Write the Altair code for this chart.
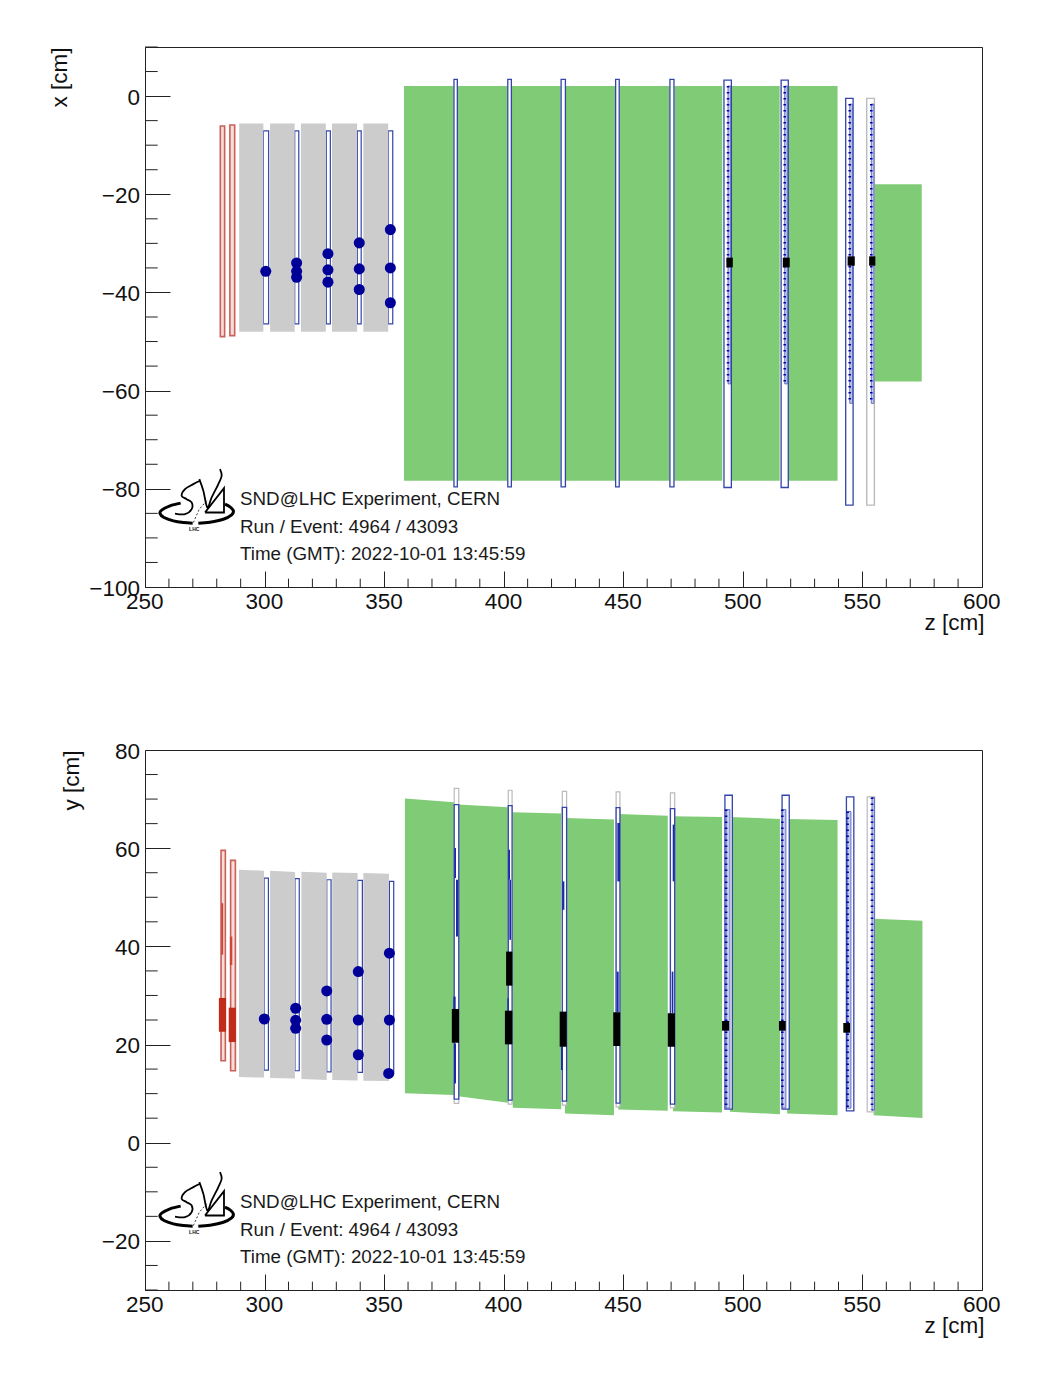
import altair as alt
import pandas as pd

Z_MIN, Z_MAX = 250, 600
FONT = "Liberation Sans"
GREEN, GRAY, BLUE, RED, NAVY = "#80cb75", "#cccccc", "#3344aa", "#c22a1a", "#000099"

z_major = [250, 300, 350, 400, 450, 500, 550, 600]
z_minor = [260, 270, 280, 290, 310, 320, 330, 340, 360, 370, 380, 390, 410, 420, 430, 440,
           460, 470, 480, 490, 510, 520, 530, 540, 560, 570, 580, 590]
x_major = [-100, -80, -60, -40, -20, 0]
x_minor = [-95, -90, -85, -75, -70, -65, -55, -50, -45, -35, -30, -25, -15, -10, -5, 5, 10]
y_major = [-20, 0, 20, 40, 60, 80]
y_minor = [-30, -25, -15, -10, -5, 5, 10, 15, 25, 30, 35, 45, 50, 55, 65, 70, 75]

# z0, z1, top0, top1, bottom0, bottom1
top_green = [(358.3, 379.0, 2.04, 2.04, -78.36, -78.36), (380.8, 401.5, 2.04, 2.04, -78.36, -78.36),
             (403.4, 423.8, 2.04, 2.04, -78.36, -78.36), (426.0, 446.6, 2.04, 2.04, -78.36, -78.36),
             (448.5, 469.3, 2.04, 2.04, -78.36, -78.36), (471.4, 491.4, 2.04, 2.04, -78.36, -78.36),
             (495.4, 515.4, 2.04, 2.04, -78.36, -78.36), (519.2, 539.6, 2.04, 2.04, -78.36, -78.36),
             (555.0, 574.8, -17.96, -17.96, -58.16, -58.16)]
bot_green = [(358.7, 379.2, 70.1, 69.35, 10.1, 9.7), (380.9, 401.8, 68.88, 68.33, 9.49, 8.12),
             (403.8, 424.0, 67.3, 67.04, 7.1, 6.84), (425.6, 446.1, 66.17, 65.82, 5.96, 5.61),
             (447.9, 468.6, 66.98, 66.63, 6.78, 6.49), (470.8, 491.3, 66.49, 66.37, 6.43, 6.17),
             (494.6, 515.5, 66.37, 65.96, 6.29, 5.82), (518.5, 539.6, 65.96, 65.76, 5.96, 5.61),
             (554.7, 575.1, 45.61, 45.21, 5.61, 5.06)]
top_gray = [(289.4, 299.5, -5.6, -5.6, -48.0, -48.0), (302.3, 312.6, -5.6, -5.6, -48.0, -48.0),
            (315.2, 325.6, -5.6, -5.6, -48.0, -48.0), (328.2, 338.7, -5.6, -5.6, -48.0, -48.0),
            (341.3, 351.7, -5.6, -5.6, -48.0, -48.0)]
bot_gray = [(289.3, 299.8, 55.61, 55.41, 13.37, 13.27), (302.3, 312.7, 55.41, 55.14, 13.17, 13.06),
            (315.4, 326.0, 55.21, 55.0, 12.96, 12.76), (328.3, 338.9, 55.06, 54.94, 12.76, 12.66),
            (341.3, 352.0, 54.94, 54.8, 12.61, 12.55)]

# z0, z1, v0, v1
top_veto = [(299.5, 301.7, -7.1, -46.4), (312.6, 314.3, -7.1, -46.4), (325.8, 327.5, -7.1, -46.4),
            (338.8, 340.4, -7.1, -46.4), (351.7, 353.6, -7.1, -46.4)]
bot_veto = [(299.8, 301.6, 53.92, 14.8), (312.7, 314.5, 53.78, 14.66), (326.0, 327.8, 53.57, 14.45),
            (338.9, 340.9, 53.43, 14.33), (352.2, 354.0, 53.23, 14.12)]
top_red = [(281.5, 283.3, -6.1, -49.0), (285.5, 287.5, -5.9, -48.8)]
bot_red = [(281.8, 283.6, 59.55, 16.7), (285.8, 287.8, 57.51, 14.65)]
top_hits_red = []
bot_hits_red = [(280.9, 283.9, 29.49, 22.61), (285.0, 288.0, 27.51, 20.51)]
top_red_core = []
bot_red_core = [(281.9, 282.7, 48.8, 38.3), (285.5, 286.5, 42.0, 36.2)]

top_us_gray = []
bot_us_gray = [(379.3, 381.2, 72.17, 8.0), (401.9, 403.5, 71.8, 7.86), (424.5, 426.3, 71.59, 7.66),
               (447.0, 448.6, 71.47, 7.31), (469.7, 471.5, 71.27, 7.1), (552.0, 555.1, 70.45, 6.29)]
top_us_blue = [(379.2, 380.6, 3.41, -79.59), (401.7, 403.2, 3.41, -79.59), (424.0, 425.8, 3.41, -79.59),
               (446.8, 448.3, 3.41, -79.59), (469.5, 471.2, 3.41, -79.59),
               (492.1, 495.2, 3.27, -79.73), (516.0, 519.0, 3.27, -79.73), (543.0, 546.1, -0.47, -83.32)]
bot_us_blue = [(379.3, 381.2, 68.88, 8.88), (401.9, 403.5, 68.68, 8.68), (424.5, 426.3, 68.33, 8.47),
               (447.0, 448.6, 68.27, 8.06), (469.7, 471.5, 68.06, 7.86),
               (492.5, 495.6, 70.78, 6.84), (516.4, 519.4, 70.78, 6.84), (543.3, 546.4, 70.45, 6.49)]
top_us_dark = []
bot_us_dark = [(379.36, 380.05, 60.03, 53.91), (380.05, 380.89, 53.57, 42.0), (378.94, 379.91, 29.76, 27.24),
               (379.2, 380.05, 20.24, 12.07), (401.94, 402.63, 59.69, 53.57), (402.35, 403.05, 53.57, 41.33),
               (401.52, 402.08, 29.42, 26.9), (424.52, 425.35, 53.23, 47.45), (423.96, 424.66, 19.56, 14.8),
               (447.52, 448.63, 65.14, 53.23), (447.24, 448.07, 34.86, 26.56), (470.66, 471.35, 64.8, 53.23),
               (470.24, 470.94, 34.86, 26.36)]
top_f4 = [(551.8, 555.0, -0.47, -83.32)]
bot_f4 = []
top_strips = [(493.8, 494.9, 2.04, -58.63), (517.5, 518.6, 2.04, -58.63),
              (544.7, 545.8, -1.63, -62.59), (553.7, 554.8, -1.63, -62.59)]
bot_strips = [(493.0, 494.6, 67.86, 7.04), (516.5, 518.0, 67.86, 7.04),
              (543.8, 545.2, 67.45, 7.04), (554.0, 555.0, 70.31, 6.63)]
top_black = [(493.1, 495.8, -32.91, -34.89), (516.7, 519.6, -32.91, -34.89),
             (543.8, 546.8, -32.65, -34.55), (552.8, 555.4, -32.65, -34.55)]
bot_black = [(378.3, 381.3, 27.25, 20.37), (401.0, 403.6, 38.94, 32.0), (400.5, 403.6, 26.9, 20.04),
             (423.4, 426.3, 26.7, 19.55), (445.8, 448.7, 26.57, 19.7), (468.6, 471.6, 26.37, 19.55),
             (491.3, 494.2, 24.8, 22.82), (515.1, 517.9, 24.8, 22.82), (542.0, 544.8, 24.39, 22.41)]

top_dots_z = [300.5, 313.4, 313.4, 313.4, 326.5, 326.5, 326.5, 339.6, 339.6, 339.6, 352.6, 352.6, 352.6]
top_dots_v = [-35.7, -34.0, -35.7, -36.9, -32.1, -35.4, -37.9, -29.9, -35.2, -39.4, -27.2, -35.0, -42.1]
bot_dots_z = [299.9, 313.0, 313.0, 313.0, 326.0, 326.0, 326.0, 339.2, 339.2, 339.2, 352.2, 352.2, 351.9]
bot_dots_v = [25.2, 27.39, 24.94, 23.31, 30.92, 25.14, 20.92, 34.86, 25.0, 17.92, 38.61, 25.0, 14.12]

info_lines = ["SND@LHC Experiment, CERN", "Run / Event: 4964 / 43093", "Time (GMT): 2022-10-01 13:45:59"]

# logo outline in (z, x) of the upper panel; the lower panel has the same outline 70 cm higher
logo_thick = [
    [(264.91, -82.92), (260.45, -83.46), (256.97, -84.35), (256.27, -85.03), (257.94, -85.85),
     (261.85, -86.53), (266.03, -86.87), (269.93, -87.0)],
    [(272.3, -87.0), (277.18, -86.8), (282.76, -86.19), (286.24, -85.3), (286.94, -84.48),
     (285.54, -83.67), (283.45, -83.12)],
]
logo_curves = [
    [(273.0, -78.36), (270.21, -79.04), (266.73, -80.06), (265.33, -81.42), (267.42, -82.1),
     (269.51, -82.78), (269.51, -84.14), (266.73, -85.16), (262.54, -85.03)],
    [(272.72, -78.02), (274.39, -80.4), (276.07, -83.8), (277.88, -81.76), (280.67, -79.04),
     (282.06, -77.34), (281.36, -75.98)],
]
logo_sail = [[(275.09, -84.82), (283.03, -79.86), (283.03, -84.82), (275.09, -84.82)]]
logo_dash = [[(270.21, -86.87), (272.72, -84.14), (275.79, -82.44)]]
logo_label = (270.6, -88.16)

W, H = 837, 540
ZS = alt.Scale(domain=[Z_MIN, Z_MAX], nice=False, zero=False)


def rects(rows):
    return pd.DataFrame(rows, columns=["z0", "z1", "v0", "v1"])


def lines(groups, shift):
    return pd.DataFrame([dict(g=g, i=i, z=p[0], v=p[1] + shift)
                         for g, pts in enumerate(groups) for i, p in enumerate(pts)])


def panel(dom, vmajor, vminor, title, title_x, d, shift):
    VS = alt.Scale(domain=dom, nice=False, zero=False)
    zaxis = alt.Axis(
        values=z_major, format="d", offset=-16, tickSize=16, tickWidth=1, tickColor="#222222",
        domain=False, grid=False, labelFont=FONT, labelFontSize=22.5, labelColor="#111111",
        labelPadding=3, labelFlush=False, labelOverlap=False, labelOffset=-0.7,
        title="z [cm]", titleFont=FONT, titleFontSize=22.5, titleFontWeight="normal", titleColor="#111111",
        titleAnchor="end", titleAlign="right", titleBaseline="alphabetic", titleX=839, titleY=58)
    vaxis = alt.Axis(
        values=vmajor, format="d", offset=-25, tickSize=25, tickWidth=1, tickColor="#222222",
        domain=False, grid=False, labelFont=FONT, labelFontSize=22.5, labelColor="#111111",
        labelPadding=5.5, labelFlush=False, labelOverlap=False, labelOffset=1,
        title=title, titleFont=FONT, titleFontSize=22.5, titleFontWeight="normal", titleColor="#111111",
        titleAngle=270, titleAnchor="end", titleAlign="right", titleBaseline="alphabetic",
        titleX=title_x, titleY=0)

    def X(f):
        return alt.X(f, type="quantitative", scale=ZS, axis=zaxis)

    def Y(f):
        return alt.Y(f, type="quantitative", scale=VS, axis=vaxis)

    def rect(rows, **kw):
        return alt.Chart(rects(rows)).mark_rect(**kw).encode(
            x=X("z0"), x2="z1", y=Y("v0"), y2="v1")

    def area(rows, color):
        out = []
        for z0, z1, t0, t1, b0, b1 in rows:
            seg = pd.DataFrame({"zz": [z0, z1], "tt": [t0, t1], "bb": [b0, b1]})
            out.append(alt.Chart(seg).mark_area(color=color, opacity=1, orient="vertical").encode(
                x=X("zz"), y=Y("tt"), y2="bb"))
        return out

    def line(groups, **kw):
        return alt.Chart(lines(groups, shift)).mark_line(color="black", **kw).encode(
            x=X("z"), y=Y("v"), detail="g:N", order="i:Q")

    layers = [
        alt.Chart(pd.DataFrame({"z": z_minor})).mark_rule(color="#222222", strokeWidth=1).encode(
            x=X("z"), y=alt.value(H), y2=alt.value(H - 8.3)),
        alt.Chart(pd.DataFrame({"v": vminor})).mark_rule(color="#222222", strokeWidth=1).encode(
            y=Y("v"), x=alt.value(0), x2=alt.value(12.7)),
    ]
    layers += area(d["green"], GREEN)
    layers.append(rect(d["veto"], fill="white", stroke=BLUE, strokeWidth=1.2))
    layers += area(d["gray"], GRAY)
    layers.append(rect(d["red"], fill="#f7dcd8", stroke="#c9605a", strokeWidth=1.6))
    if d["red_core"]:
        layers.append(rect(d["red_core"], fill="#d0453a"))
    if d["hits_red"]:
        layers.append(rect(d["hits_red"], fill=RED))
    if d["us_gray"]:
        layers.append(rect(d["us_gray"], fill="white", stroke="#bbbbbb", strokeWidth=1.2))
    layers.append(rect(d["us_blue"], fill="white", stroke=BLUE, strokeWidth=1.3))
    if d["us_dark"]:
        layers.append(rect(d["us_dark"], fill="#1a2aa8"))
    if d["f4"]:
        layers.append(rect(d["f4"], fill="white", stroke="#bbbbbb", strokeWidth=1.4))
    layers.append(rect(d["strips"], fill="#c5cdf2", stroke=BLUE, strokeWidth=0.7))
    layers.append(alt.Chart(rects(d["strips"])).mark_rule(
        color="#0000aa", strokeWidth=2.6, strokeDash=[1.4, 4.6]).encode(
        x=X("z0"), y=Y("v0"), y2="v1"))
    layers.append(rect(d["black"], fill="black"))
    layers.append(alt.Chart(pd.DataFrame({"z": d["dots_z"], "v": d["dots_v"]})).mark_circle(
        color=NAVY, size=122, opacity=1).encode(x=X("z"), y=Y("v")))
    for t, py in zip(info_lines, [452, 480, 507]):
        layers.append(alt.Chart(pd.DataFrame({"t": [t]})).mark_text(
            font=FONT, fontSize=18.8, color="#1a1a1a", align="left", baseline="middle").encode(
            x=alt.value(95), y=alt.value(py), text="t:N"))
    layers.append(line(logo_thick, strokeWidth=3, interpolate="cardinal"))
    layers.append(line(logo_curves, strokeWidth=1.8, interpolate="cardinal"))
    layers.append(line(logo_sail, strokeWidth=1.8))
    layers.append(line(logo_dash, strokeWidth=0.8, strokeDash=[2, 2]))
    layers.append(alt.Chart(pd.DataFrame({"z": [logo_label[0]], "v": [logo_label[1] + shift], "t": ["LHC"]})).mark_text(
        font=FONT, fontSize=5, fontWeight="bold", color="#111111").encode(x=X("z"), y=Y("v"), text="t:N"))

    return alt.layer(*layers).properties(width=W, height=H)


top = panel([-100, 10], x_major, x_minor, "x [cm]", -104, dict(
    green=top_green, gray=top_gray, veto=top_veto, red=top_red, hits_red=top_hits_red, red_core=top_red_core,
    us_gray=top_us_gray, us_blue=top_us_blue, us_dark=top_us_dark, f4=top_f4, strips=top_strips, black=top_black,
    dots_z=top_dots_z, dots_v=top_dots_v), 0)
bottom = panel([-30, 80], y_major, y_minor, "y [cm]", -92, dict(
    green=bot_green, gray=bot_gray, veto=bot_veto, red=bot_red, hits_red=bot_hits_red, red_core=bot_red_core,
    us_gray=bot_us_gray, us_blue=bot_us_blue, us_dark=bot_us_dark, f4=bot_f4, strips=bot_strips, black=bot_black,
    dots_z=bot_dots_z, dots_v=bot_dots_v), 70)

chart = alt.vconcat(top, bottom, spacing=105).properties(
    padding={"left": 39, "top": 38, "right": 10, "bottom": 10},
    background="white",
).configure_view(stroke="#222222", strokeWidth=1, fill=None)

chart.save("out.html", embed_options={"renderer": "svg", "actions": False})
